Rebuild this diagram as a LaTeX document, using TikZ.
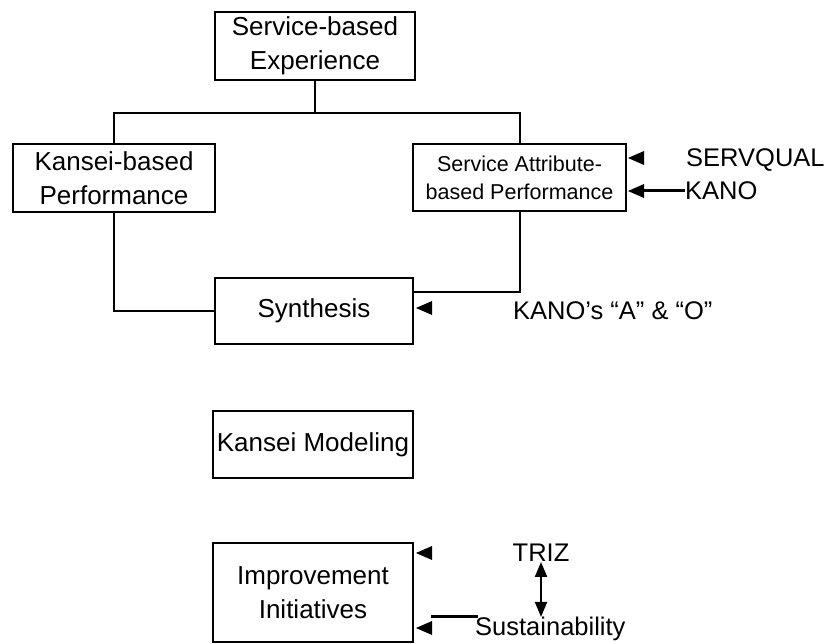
\documentclass[tikz,border=0pt]{standalone}
\usepackage{fontspec}
\setmainfont{Liberation Sans}
\usetikzlibrary{arrows.meta,calc}
\tikzset{
  box/.style={draw, line width=2pt, inner sep=0pt, align=center, font=\fontsize{26}{34}\selectfont},
  smallbox/.style={box, font=\fontsize{21.5}{28}\selectfont},
  lbl/.style={inner sep=0pt, font=\fontsize{25.5}{30}\selectfont},
  conn/.style={line width=2pt},
  head/.style={fill=black},
  dbl/.style={line width=2pt, {Triangle[length=15pt,width=12pt]}-{Triangle[length=15pt,width=12pt]}},
  stub/.style={line width=3pt}
}
\begin{document}
\begin{tikzpicture}[x=1pt,y=-1pt]
\useasboundingbox (0,0) rectangle (829,644);
% boxes
\node[box, minimum width=200pt, minimum height=68pt] (top) at (315,46) {Service-based\\Experience};
\node[box, minimum width=202pt, minimum height=68pt] (kb) at (114,178) {Kansei-based\\Performance};
\node[smallbox, minimum width=213pt, minimum height=67pt] (sa) at (519.5,177.5) {Service Attribute-\\based Performance};
\node[box, minimum width=198pt, minimum height=66pt] (syn) at (314,311) {Synthesis};
\node[box, minimum width=200pt, minimum height=67pt] (km) at (313,444.5) {Kansei Modeling};
\node[box, minimum width=200pt, minimum height=99pt] (imp) at (313,592.5) {Improvement\\Initiatives};
% labels
\node[lbl, anchor=west] (servqual) at (686,160) {SERVQUAL};
\node[lbl, anchor=west] (kano) at (685,191) {KANO};
\node[lbl, anchor=west] (kanoao) at (513,311) {KANO’s “A” \& “O”};
\node[lbl] (triz) at (541,553) {TRIZ};
\node[lbl, anchor=west] (sust) at (475,629) {Sustainability};
% tree connectors
\coordinate (junc) at (315,113);
\draw[conn] (top.south) -- (junc);
\draw[conn] (kb.north) |- (junc) -| (sa.north);
\draw[conn] (kb.south) |- (syn.west);
\draw[conn] (sa.south) |- ([yshift=19pt]syn.east);
% arrowheads
\coordinate (a1) at ([xshift=1pt,yshift=19.5pt]sa.east);
\coordinate (a2) at ([xshift=1pt,yshift=-13.5pt]sa.east);
\coordinate (a3) at ([xshift=2pt,yshift=3pt]syn.east);
\coordinate (a4) at ([xshift=2pt,yshift=39.5pt]imp.east);
\coordinate (a5) at ([xshift=2pt,yshift=-35.5pt]imp.east);
\foreach \p in {a1,a2,a3,a4,a5}{
  \fill[head] (\p) -- ++(16,-7) -- ++(0,14) -- cycle;
}
\draw[stub] ([xshift=15pt]a2) -- (kano.west);
\coordinate (s1) at (431,616);
\coordinate (s2) at (478,616);
\draw[stub] (s1) -- (s2);
\draw[dbl] (triz.south) -- (triz.south |- sust.north);
\end{tikzpicture}
\end{document}
